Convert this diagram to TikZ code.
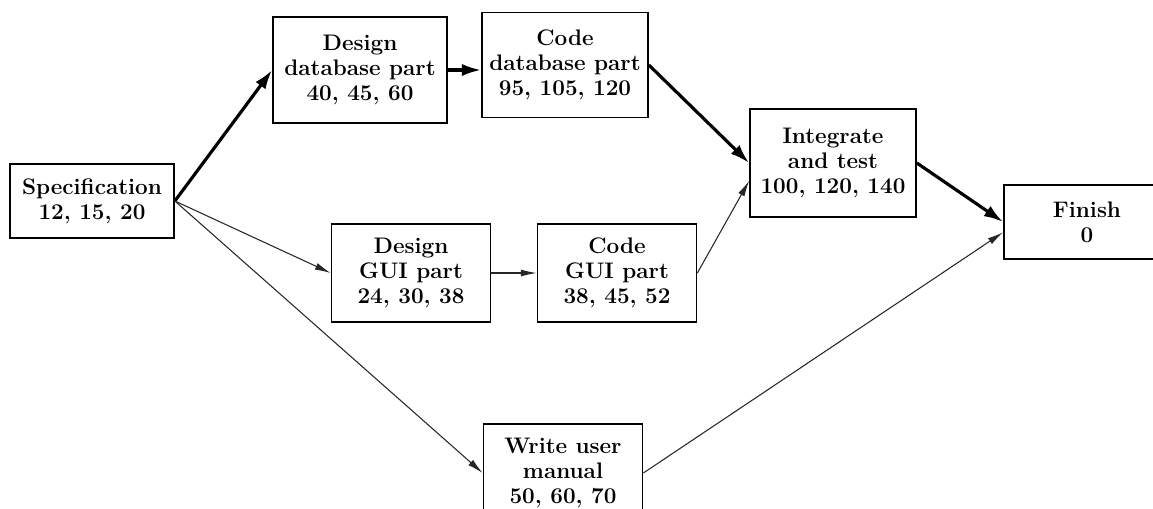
\documentclass[tikz,border=0pt]{standalone}
\usepackage{tikz}
\usetikzlibrary{positioning,calc,arrows.meta}

\tikzset{
    task/.style={draw, line width=1pt, align=center, inner sep=2pt,
        font=\fontsize{12.8}{14.4}\selectfont\bfseries},
    crit/.style={line width=1.8pt, -{Latex[length=11pt,width=7pt]}},
    flow/.style={line width=0.6pt, black!85, -{Latex[length=9pt,width=4pt]}}
}

\begin{document}
\begin{tikzpicture}[x=0.02cm, y=-0.02cm]
        \useasboundingbox (0,0) rectangle (1153,508);
        \begin{scope}
        \clip (0,0) rectangle (1153,508);

        % activities
        \node[task, minimum width=3.28cm, minimum height=1.48cm] (spec) at (92,201) {Specification\\12, 15, 20};
        \node[task, minimum width=3.48cm, minimum height=2.12cm] (ddb) at (360,70) {Design\\database part\\40, 45, 60};
        \node[task, minimum width=3.32cm, minimum height=2.1cm] (cdb) at (565,65) {Code\\database part\\95, 105, 120};
        \node[task, minimum width=3.18cm, minimum height=1.96cm] (dgui) at (411,273) {Design\\GUI part\\24, 30, 38};
        \node[task, minimum width=3.18cm, minimum height=1.96cm] (cgui) at (617,273) {Code\\GUI part\\38, 45, 52};
        \node[task, minimum width=3.32cm, minimum height=2.16cm] (integ) at (833,163) {Integrate\\and test\\100, 120, 140};
        \node[task, minimum width=3.32cm, minimum height=1.48cm] (finish) at (1087,222) {Finish\\0};
        \node[task, minimum width=3.18cm, minimum height=1.96cm] (manual) at (563,473) {Write user\\manual\\50, 60, 70};

        % critical path
        \draw[crit] (spec.east) -- (ddb.west);
        \draw[crit] (ddb.east) -- (ddb.east -| cdb.west);
        \draw[crit] (cdb.east) -- (integ.west);
        \draw[crit] (integ.east) -- (finish.west);

        % other dependencies
        \draw[flow] (spec.east) -- (dgui.west);
        \draw[flow] (spec.east) -- (manual.west);
        \draw[flow] (dgui.east) -- (cgui.west);
        \draw[flow] (cgui.east) -- (integ.192);
        \draw[flow] (manual.east) -- (finish.187);
        \end{scope}
    \end{tikzpicture}
\end{document}
